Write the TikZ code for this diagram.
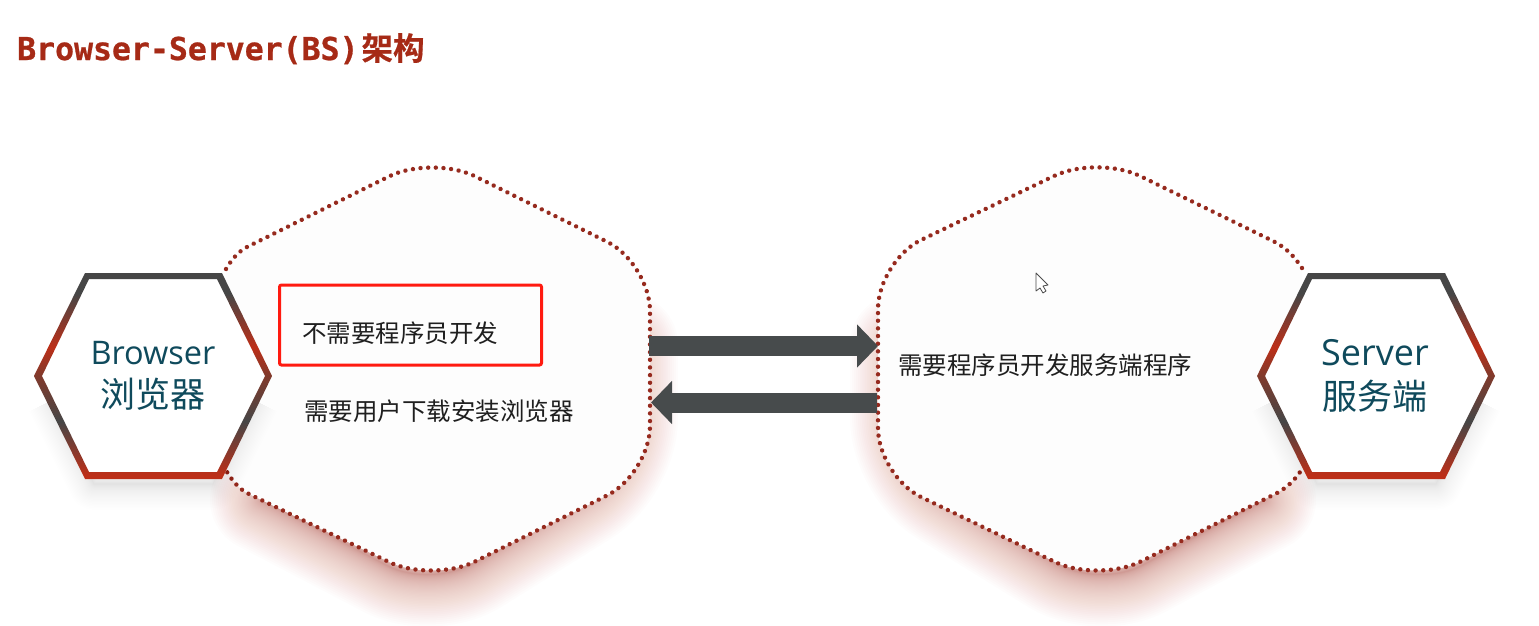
\documentclass[tikz,border=0pt]{standalone}
\usepackage{fontspec}
\usetikzlibrary{arrows.meta,calc}
\newfontfamily\cjkfont{Noto Sans CJK SC}
\newfontfamily\cjkbold[FakeBold=0.5]{Noto Sans CJK SC Bold}
\newfontfamily\monob[FakeBold=0.8]{DejaVu Sans Mono Bold}
\newfontfamily\latinfont{Open Sans}
\definecolor{titlered}{HTML}{A62A16}
\definecolor{dotred}{HTML}{962A1E}
\definecolor{shadowred}{HTML}{C8402F}
\definecolor{arrowgrey}{HTML}{474B4C}
\definecolor{teal}{HTML}{0F4A5C}
\definecolor{ringdark}{HTML}{464646}
\definecolor{ringred}{HTML}{BC2F18}
\definecolor{ringmid}{HTML}{803A2C}
\definecolor{blobfill}{HTML}{FDFDFD}
\definecolor{boxred}{HTML}{FF1A10}
\pgfdeclareverticalshading{ringshade}{100bp}{color(0bp)=(ringred);color(26bp)=(ringred);color(39bp)=(ringdark);color(50bp)=(ringmid);color(57bp)=(ringred);color(70bp)=(ringdark);color(100bp)=(ringdark)}
\newcommand{\cornerto}[2]{.. controls ($(\currentfrom)!.55!(#1)$) and ($(#2)!.55!(#1)$) .. (#2)}
\tikzset{
  blob/.style={fill=blobfill,draw=dotred,line width=4.4pt,line cap=round,dash pattern=on 0.01pt off 7.65pt},
  shadowlayer/.style={draw=shadowred,draw opacity=.0125,rounded corners=50pt,line cap=round,line join=round},
  hexshadow/.style={draw=black,draw opacity=.0035,line join=round},
  ring/.style={shading=ringshade,even odd rule},
  flow/.style={draw=arrowgrey,line width=20pt,-{Triangle[length=21pt,width=42pt]}},
  body/.style={anchor=base west,inner sep=0pt,text=black!88,font=\fontsize{24.5pt}{26pt}\cjkfont},
  hexlatin/.style={inner sep=0pt,text=teal,anchor=base,font=\fontsize{32.5pt}{34pt}\latinfont},
  hexcjk/.style={inner sep=0pt,text=teal,anchor=base,font=\fontsize{35pt}{38pt}\cjkfont},
}
\begin{document}
\begin{tikzpicture}[x=1pt,y=-1pt]
\useasboundingbox (0,0) rectangle (1539,626);
\fill[white] (0,0) rectangle (1539,626);
% blob shadows
\foreach \i in {4,...,50}{
  \pgfmathsetmacro{\w}{\i*\i*0.0416}
  \draw[shadowlayer,line width=\w pt] (626,345) -- (626,468) -- (432,589) -- (262,500);
  \draw[shadowlayer,line width=\w pt] (902,345) -- (902,468) -- (1098,589) -- (1264,500);
}
% blobs
\draw[blob] (226,269) .. controls (232,259) and (238,252) .. (247,247) -- (389,176.4)
  .. controls ($(389,176.4)!.55!(432,155)$) and ($(475,176.3)!.55!(432,155)$) .. (475,176.3) -- (607,241.7)
  .. controls ($(607,241.7)!.55!(650,263)$) and ($(650,311)!.55!(650,263)$) .. (650,311) -- (650,426)
  .. controls ($(650,426)!.55!(650,474)$) and ($(607,495.5)!.55!(650,474)$) .. (607,495.5) -- (475,561.5)
  .. controls ($(475,561.5)!.55!(432,583)$) and ($(389,562)!.55!(432,583)$) .. (389,562) -- (247,493)
  .. controls (238,488) and (232,480) .. (227,472);
\draw[blob] (1302,268) .. controls (1294,256) and (1286,248) .. (1275,242) -- (1140,176)
  .. controls ($(1140,176)!.55!(1097,155)$) and ($(1054,176)!.55!(1097,155)$) .. (1054,176) -- (921,240)
  .. controls ($(921,240)!.55!(878,261)$) and ($(878,309)!.55!(878,261)$) .. (878,309) -- (878,428)
  .. controls ($(878,428)!.55!(878,476)$) and ($(921,497)!.55!(878,476)$) .. (921,497) -- (1055,562)
  .. controls ($(1055,562)!.55!(1098,583)$) and ($(1141,561.4)!.55!(1098,583)$) .. (1141,561.4) -- (1277,493)
  .. controls (1286,488) and (1294,481) .. (1300,472);
% hexagon shadows
\foreach \i in {4,...,32}{
  \pgfmathsetmacro{\w}{\i*\i*0.05}
  \draw[hexshadow,line width=\w pt] (52,400) -- (94,484) -- (213,484) -- (254,400);
  \draw[hexshadow,line width=\w pt] (1275,400) -- (1317,484) -- (1436,484) -- (1477,400);
}
% hexagons
\fill[white] (34,376) -- (85,273) -- (222,273) -- (272,376) -- (222,479) -- (85,479) -- cycle;
\shade[ring] (34,376) -- (85,273) -- (222,273) -- (272,376) -- (222,479) -- (85,479) -- cycle
  (42,376) -- (89,279) -- (217,279) -- (265,376) -- (217,472) -- (89,472) -- cycle;
\fill[white] (1257,376) -- (1308,273) -- (1445,273) -- (1495,376) -- (1445,479) -- (1308,479) -- cycle;
\shade[ring] (1257,376) -- (1308,273) -- (1445,273) -- (1495,376) -- (1445,479) -- (1308,479) -- cycle
  (1265,376) -- (1312,279) -- (1440,279) -- (1488,376) -- (1440,472) -- (1312,472) -- cycle;
% arrows
\coordinate (browserOut) at (649,346);
\coordinate (serverIn) at (878,346);
\coordinate (serverOut) at (877,402.5);
\coordinate (browserIn) at (651,402.5);
\draw[flow] (browserOut) -- (serverIn);
\draw[flow] (serverOut) -- (browserIn);
% title
\node (title) [anchor=base west,inner sep=0pt,text=titlered] at (17,60)
  {\fontsize{31.5pt}{34pt}\monob Browser-Server(BS)\hspace{3pt}\fontsize{31.5pt}{34pt}\cjkbold 架构};
% hexagon labels
\node (browserEn) [hexlatin] at (153,364) {Browser};
\node (browserZh) [hexcjk] at (153,407) {浏览器};
\node (serverEn) [hexlatin,font=\fontsize{36pt}{38pt}\latinfont] at (1375,365) {Server};
\node (serverZh) [hexcjk] at (1375,409) {服务端};
% body text
\node (noDev) [body] at (302,342) {不需要程序员开发};
\node (install) [body] at (304,420) {需要用户下载安装浏览器};
\node (needDev) [body] at (898,374) {需要程序员开发服务端程序};
% highlight
\node (highlight) [draw=boxred,line width=3pt,rounded corners=2pt,minimum width=262pt,minimum height=80pt,inner sep=0pt] at (410.5,325) {};
% cursor
\draw[fill=white,draw=black!70,line width=.8pt,line join=round] (1036,273) -- (1048,285) -- (1043,286) -- (1046,291) -- (1043,293) -- (1040,288) -- (1036,291) -- cycle;
\end{tikzpicture}
\end{document}
